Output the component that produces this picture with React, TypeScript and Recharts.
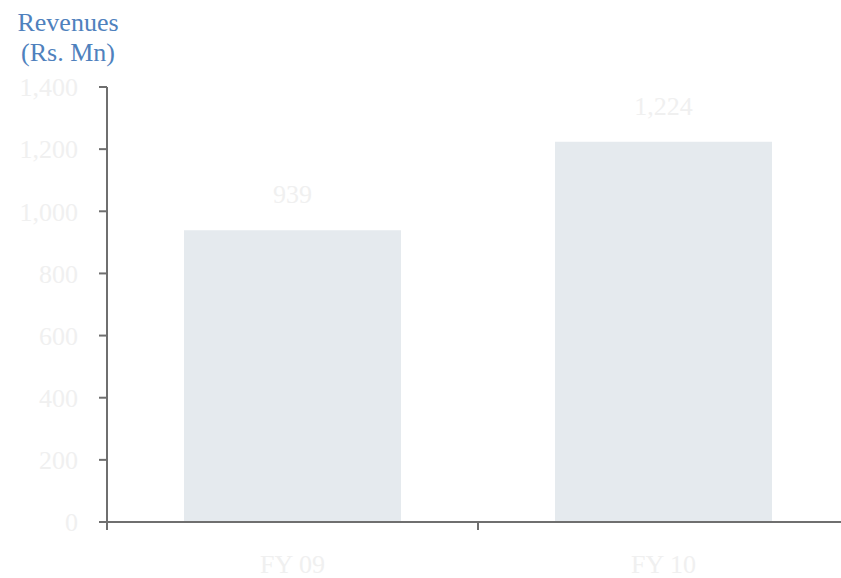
import * as React from 'react';
import { BarChart, Bar, XAxis, YAxis, LabelList } from 'recharts';

const years = ['FY 09', 'FY 10'];
const revenues = [939, 1224];
const yTicks = [0, 200, 400, 600, 800, 1000, 1200, 1400];

const data = years.map((year, i) => ({ year, revenue: revenues[i] }));

const AXIS = '#6f6f6f';
const FAINT = '#f0f0f0';
const FONT = '"Liberation Serif", "Times New Roman", serif';

const CHART_W = 860;
const MARGIN = { top: 79, right: 19, left: 0, bottom: 55 };
const Y_W = 99;
const HALF_BAND = (CHART_W - MARGIN.left - MARGIN.right - Y_W) / years.length / 2;

const fmt = (v: number) => v.toLocaleString('en-US');

// category label plus a tick mark on the left edge of each band
const CategoryTick = (props: any) => {
	const { x, y, payload } = props;
	const left = x - HALF_BAND;
	return (
		<g>
			<line x1={left} y1={y} x2={left} y2={y + 8} stroke={AXIS} strokeWidth={2} />
			<text x={x} y={y + 33} dy="0.71em" textAnchor="middle" fill={FAINT} fontSize={26} fontFamily={FONT}>
				{payload.value}
			</text>
		</g>
	);
};

export default function App() {
	return (
		<div
			style={{
				position: 'relative',
				width: 841,
				height: 578,
				overflow: 'hidden',
				fontFamily: FONT,
				background: '#fff'
			}}
		>
			<style>{'body { margin: 0; }'}</style>
			<div
				style={{
					position: 'absolute',
					left: 8,
					top: 8,
					width: 120,
					textAlign: 'center',
					color: '#4f81bd',
					fontSize: 26,
					lineHeight: '30px'
				}}
			>
				Revenues
				<br />
				(Rs. Mn)
			</div>
			<div style={{ position: 'absolute', left: 8, top: 8 }}>
				<BarChart width={CHART_W} height={570} data={data} margin={MARGIN} barCategoryGap="20.75%">
					<XAxis
						dataKey="year"
						height={1}
						axisLine={{ stroke: AXIS, strokeWidth: 2 }}
						tickLine={false}
						tickSize={0}
						tickMargin={0}
						interval={0}
						tick={<CategoryTick />}
					/>
					<YAxis
						width={Y_W}
						domain={[0, 1400]}
						ticks={yTicks}
						tickFormatter={fmt}
						axisLine={{ stroke: AXIS, strokeWidth: 2 }}
						tickLine={{ stroke: AXIS, strokeWidth: 2 }}
						tickSize={8}
						tickMargin={21}
						tick={{ fill: FAINT, fontSize: 26, fontFamily: FONT }}
					/>
					<Bar dataKey="revenue" fill="#e5eaee" isAnimationActive={false}>
						<LabelList
							dataKey="revenue"
							position="top"
							offset={27}
							formatter={fmt}
							fill={FAINT}
							fontSize={26}
							fontFamily={FONT}
						/>
					</Bar>
				</BarChart>
			</div>
		</div>
	);
}
